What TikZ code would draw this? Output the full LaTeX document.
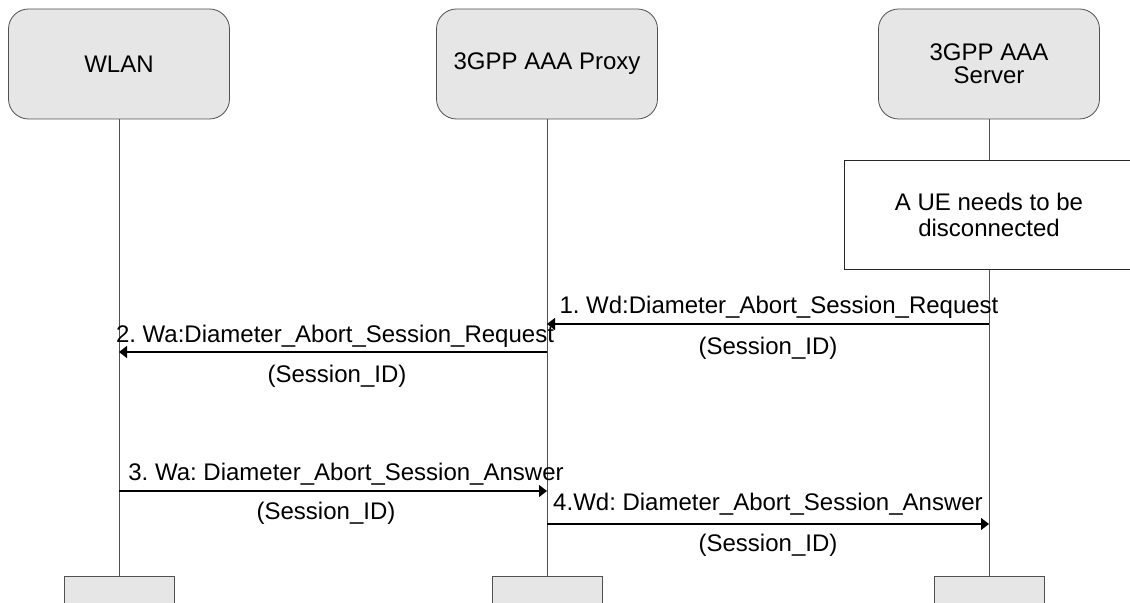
\documentclass[tikz,border=0pt]{standalone}
\usepackage{fontspec}
\setmainfont{Liberation Sans}
\usetikzlibrary{arrows.meta, positioning}
\definecolor{boxgray}{HTML}{E6E6E6}
\definecolor{linegray}{HTML}{505050}
\frenchspacing

\begin{document}
\begin{tikzpicture}[x=0.5pt, y=-0.5pt,
    every node/.style={font=\fontsize{12}{13}\selectfont, inner sep=0pt},
    head/.style={draw=linegray, fill=boxgray, rounded corners=10pt, minimum width=110.5pt, minimum height=55pt, align=center},
    foot/.style={draw=linegray, fill=boxgray, minimum width=55pt, minimum height=25pt, anchor=north},
    note/.style={draw=black!85, fill=white, minimum width=145pt, minimum height=54.5pt, align=center},
    msg/.style={-{Triangle[length=4pt, width=6pt]}, line width=0.6pt},
    life/.style={draw=linegray, line width=0.5pt},
    lbl/.style={text height=9pt, text depth=3pt}]

    \useasboundingbox (0,0) rectangle (1130,603);
    \clip (0,0) rectangle (1130,603);

    % the three parties
    \node[head] (wlan) at (119,64) {WLAN};
    \node[head] (proxy) at (547,64) {3GPP AAA Proxy};
    \node[head, font=\fontsize{12}{11.5}\selectfont] (server) at (989,64) {3GPP AAA\\Server};

    \node[foot] (wlan-end) at (wlan |- 0,576) {};
    \node[foot] (proxy-end) at (proxy |- 0,576) {};
    \node[foot] (server-end) at (server |- 0,576) {};

    \foreach \n in {wlan, proxy, server} {
        \draw[life] (\n.south) -- (\n-end.north);
    }

    \node[note] (ue) at (989,214.5) {A UE needs to be\\disconnected};

    % points on the lifelines
    \foreach \i/\y in {1/324, 2/352, 3/491, 4/524} {
        \coordinate (w\i) at (wlan |- 0,\y);
        \coordinate (p\i) at (proxy |- 0,\y);
        \coordinate (s\i) at (server |- 0,\y);
    }

    \draw[msg] (s1) -- node[lbl, midway, above=1.7pt, xshift=5.5pt] {1. Wd:Diameter\_Abort\_Session\_Request} node[lbl, midway, below=5.8pt] {(Session\_ID)} (p1);
    \draw[msg] (p2) -- node[lbl, midway, above=1.2pt, xshift=1pt] {2. Wa:Diameter\_Abort\_Session\_Request} node[lbl, midway, below=5.8pt, xshift=2pt] {(Session\_ID)} (w2);
    \draw[msg] (w3) -- node[lbl, midway, above=1.7pt, xshift=6.5pt] {3. Wa: Diameter\_Abort\_Session\_Answer} node[lbl, midway, below=4.8pt, xshift=-3.5pt] {(Session\_ID)} (p3);
    \draw[msg] (p4) -- node[lbl, midway, above=3.2pt] {4.Wd: Diameter\_Abort\_Session\_Answer} node[lbl, midway, below=4.3pt] {(Session\_ID)} (s4);
\end{tikzpicture}
\end{document}
